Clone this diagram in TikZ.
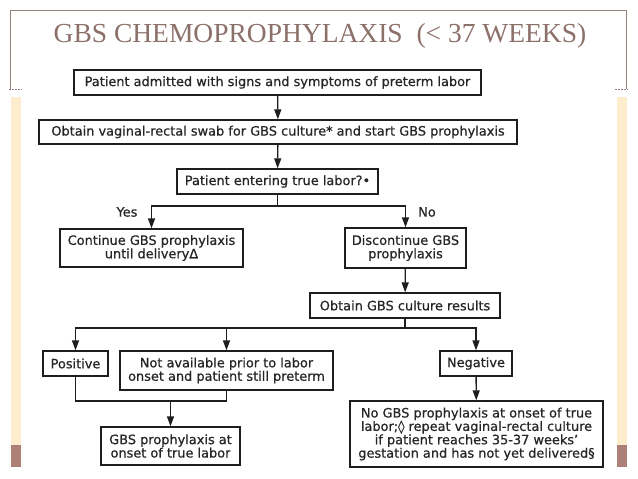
\documentclass[tikz,border=0pt]{standalone}
\usepackage{fontspec}
\setmainfont{Liberation Serif}
\newfontfamily\flowfont[FakeBold=0.7]{DejaVu Sans}
\usetikzlibrary{arrows.meta,calc}
\definecolor{gtitle}{RGB}{140,112,106}
\definecolor{gframe}{RGB}{150,128,122}
\definecolor{gbeige}{RGB}{253,237,204}
\definecolor{gbrown}{RGB}{172,128,118}
\definecolor{gline}{RGB}{30,30,30}
\tikzset{gb/.style={draw=gline,line width=1.3pt,align=center,inner sep=2pt,text=black!85,
    font={\flowfont\fontsize{12.9}{13.4}\selectfont}},
  gl/.style={inner sep=1pt,text=black!85,font={\flowfont\fontsize{12.9}{13.4}\selectfont}},
  ga/.style={-{Triangle[length=10pt,width=7pt]},line width=1.3pt,draw=gline}}

\begin{document}
\begin{tikzpicture}[x=1pt,y=-1pt]
    \useasboundingbox (0,0) rectangle (638,479);
    \draw[gframe,line width=0.8pt] (10,89) -- (10,10) -- (626,10) -- (626,89);
    \draw[gframe,dashed,line width=0.5pt,dash pattern=on 2pt off 1pt] (9,89) -- (22,89);
    \draw[gframe,dashed,line width=0.5pt,dash pattern=on 2pt off 1pt] (615,89) -- (628,89);
    \fill[gbeige] (11,97) rectangle (21,445);
    \fill[gbrown] (11,445) rectangle (21,467);
    \fill[gbeige] (617,97) rectangle (627,445);
    \fill[gbrown] (617,445) rectangle (627,467);
    \node[font={\fontsize{27.5}{30}\selectfont},text=gtitle,anchor=base] (ttl) at (320,42) {GBS CHEMOPROPHYLAXIS\ \ (< 37 WEEKS)};
    \node[gb,minimum width=407pt,minimum height=25pt] (admit) at (277.5,82.5) {Patient admitted with signs and symptoms of preterm labor};
    \node[gb,minimum width=478pt,minimum height=24pt] (swab) at (278,132) {Obtain vaginal-rectal swab for GBS culture* and start GBS prophylaxis};
    \node[gb,minimum width=201pt,minimum height=25pt] (labor) at (277.5,181.5) {Patient entering true labor?•};
    \node[gb,minimum width=183pt,minimum height=38pt] (cont) at (151.5,248) {Continue GBS prophylaxis\\until deliveryΔ};
    \node[gb,minimum width=121pt,minimum height=40pt] (disc) at (405.5,248) {Discontinue GBS\\prophylaxis};
    \node[gb,minimum width=190pt,minimum height=25pt] (cult) at (405,305.5) {Obtain GBS culture results};
    \node[gb,minimum width=65pt,minimum height=25pt] (pos) at (75.5,363.5) {Positive};
    \node[gb,minimum width=213pt,minimum height=39pt] (notav) at (226.5,370.5) {Not available prior to labor\\onset and patient still preterm};
    \node[gb,minimum width=72pt,minimum height=25pt] (neg) at (476,363.5) {Negative};
    \node[gb,minimum width=139pt,minimum height=38pt] (gbsat) at (170.5,446) {GBS prophylaxis at\\onset of true labor};
    \node[gb,minimum width=253pt,minimum height=66pt] (nogbs) at (476.5,434) {No GBS prophylaxis at onset of true\\labor;◊ repeat vaginal-rectal culture\\if patient reaches 35-37 weeks’\\gestation and has not yet delivered§};
    \node[gl] (lyes) at (127,212) {Yes};
    \node[gl] (lno) at (427,212) {No};
    \coordinate (split1) at (277.5,206);
    \coordinate (split2) at (405,328);
    \coordinate (join) at (170.5,401);
    \draw[ga] (admit) -- (swab);
    \draw[ga] (swab) -- (labor);
    \draw[line width=1.3pt,gline] (labor) -- (split1);
    \draw[ga] (split1) -| (cont);
    \draw[ga] (split1) -| (disc);
    \draw[ga] (disc) -- (cult);
    \draw[line width=1.3pt,gline] (cult) -- (split2);
    \draw[ga] (split2) -| (pos);
    \draw[ga] (split2) -| (notav);
    \draw[ga] (split2) -| (neg);
    \draw[line width=1.3pt,gline] (pos) |- (join);
    \draw[line width=1.3pt,gline] (notav) |- (join);
    \draw[ga] (join) -- (gbsat);
    \draw[ga] (neg) -- (nogbs);
\end{tikzpicture}
\end{document}
